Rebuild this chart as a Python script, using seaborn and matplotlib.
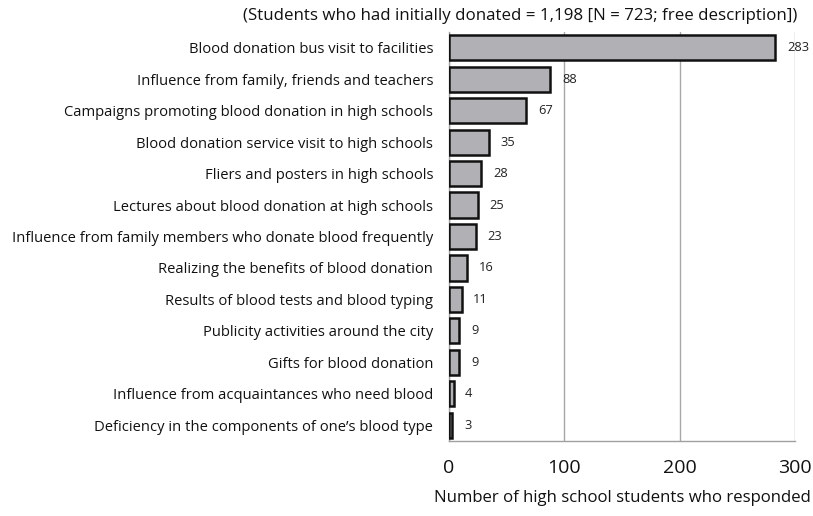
import matplotlib
matplotlib.use("Agg")
import matplotlib.pyplot as plt
import seaborn as sns
import pandas as pd
import numpy as np

categories = [
    "Blood donation bus visit to facilities",
    "Influence from family, friends and teachers",
    "Campaigns promoting blood donation in high schools",
    "Blood donation service visit to high schools",
    "Fliers and posters in high schools",
    "Lectures about blood donation at high schools",
    "Influence from family members who donate blood frequently",
    "Realizing the benefits of blood donation",
    "Results of blood tests and blood typing",
    "Publicity activities around the city",
    "Gifts for blood donation",
    "Influence from acquaintances who need blood",
    "Deficiency in the components of one\u2019s blood type",
]
values = [283, 88, 67, 35, 28, 25, 23, 16, 11, 9, 9, 4, 3]
x_ticks = [0, 100, 200, 300]
title = "(Students who had initially donated = 1,198 [N = 723; free description])"
xlabel = "Number of high school students who responded"

sns.set_theme(style="white")
plt.rcParams['font.family'] = ['Open Sans', 'DejaVu Sans']

df = pd.DataFrame({"cat": categories, "val": values})

fig = plt.figure(figsize=(8.13, 5.16), dpi=100)
ax = fig.add_axes([449/813, 1-441/516, (795-449)/813, (441-32)/516])

sns.barplot(data=df, y="cat", x="val", orient="h", color="#b1b1b5",
            edgecolor="#111111", linewidth=1.8, width=0.8, saturation=1, ax=ax, zorder=3)

ax.set_xlim(0, 300)
ax.set_ylim(len(categories) - 0.5, -0.5)
ax.set_xticks(x_ticks)
ax.set_xticklabels([str(t) for t in x_ticks], fontsize=14, color="#111111")
ax.grid(axis="x", color="#a8a8a8", linewidth=1, zorder=0)
ax.grid(axis="y", visible=False)

ax.set_yticks(range(len(categories)))
ax.set_yticklabels(categories, fontsize=10.65, color="#111111")
ax.tick_params(axis="y", which="major", length=0, pad=11.5)
ax.set_yticks(np.arange(-0.5, len(categories), 1), minor=True)
ax.tick_params(axis="y", which="minor", length=5, color="#a0a0a0", width=1)
ax.tick_params(axis="x", which="major", length=6, color="#a0a0a0", width=1, pad=7)

for s in ["top", "right"]:
    ax.spines[s].set_visible(False)
for s in ["left", "bottom"]:
    ax.spines[s].set_color("#a0a0a0")
    ax.spines[s].set_linewidth(1)

for i, v in enumerate(values):
    ax.text(v + 10, i, str(v), va="center", ha="left", fontsize=9.3, color="#222222", clip_on=False)

ax.set_xlabel(xlabel, fontsize=12.1, labelpad=9, color="#111111")
ax.set_ylabel("")
fig.text(797/813, 1-16/516, title, ha="right", va="center", fontsize=12.2, color="#111111")

fig.savefig("out.png", dpi=100)
